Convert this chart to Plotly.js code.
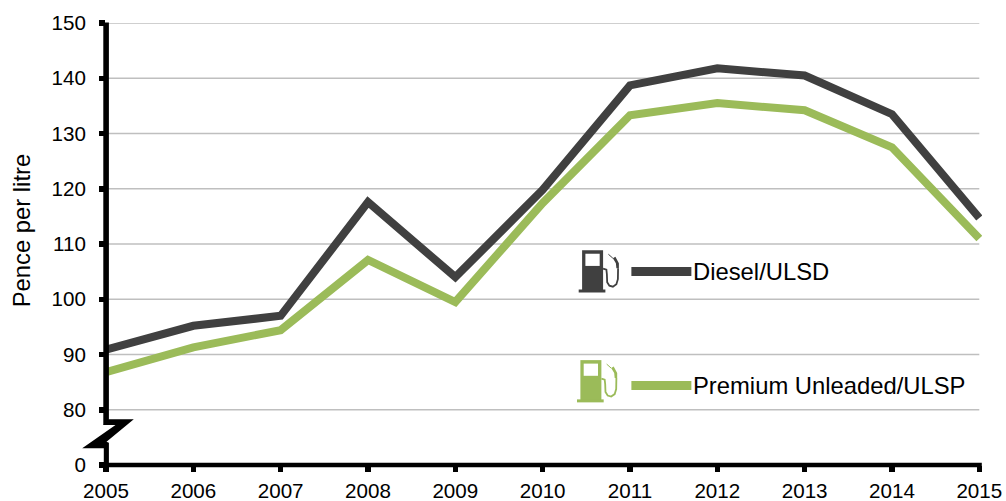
<!DOCTYPE html>
<html>
<head>
<meta charset="utf-8">
<script src="https://cdn.plot.ly/plotly-3.0.1.min.js"></script>
<style>html,body{margin:0;padding:0;background:#fff;overflow:hidden}</style>
</head>
<body>
<div id="chart" style="width:1006px;height:501px"></div>
<script>
// Data
var years = [2005,2006,2007,2008,2009,2010,2011,2012,2013,2014,2015];
var diesel = [90.9,95.2,97.0,117.6,104.0,119.8,138.7,141.8,140.5,133.5,114.7];
var premium = [86.8,91.3,94.4,107.1,99.5,117.4,133.3,135.5,134.2,127.5,111.0];
// The axis is broken: the "0" tick sits one step below 80.
var yTickVals = [70,80,90,100,110,120,130,140,150];
var yTickText = ['0','80','90','100','110','120','130','140','150'];
var gridVals = [80,90,100,110,120,130,140,150];
var seriesNames = ['Diesel/ULSD','Premium Unleaded/ULSP'];
var seriesColors = ['#404040','#9BBB59'];
var yTitle = 'Pence per litre';

var W=1006,H=501,L=105.5,R=981.7,T=22.5,B=465;
var font='"Liberation Sans", Arial, sans-serif';
function px(x){return (x-L)/(R-L);}
function py(y){return (B-y)/(B-T);}
function poly(pts,fill){
  var d=pts.map(function(p,i){return (i?'L':'M')+px(p[0])+' '+py(p[1]);}).join(' ')+' Z';
  return {type:'path',xref:'paper',yref:'paper',path:d,fillcolor:fill,line:{width:0},layer:'above'};
}
function seg(pts,color,w){
  var d=pts.map(function(p,i){return (i?'L':'M')+px(p[0])+' '+py(p[1]);}).join(' ');
  return {type:'path',xref:'paper',yref:'paper',path:d,line:{color:color,width:w},layer:'above'};
}
function rect(x0,y0,x1,y1,fill){
  return {type:'rect',xref:'paper',yref:'paper',x0:px(x0),x1:px(x1),y0:py(y0),y1:py(y1),fillcolor:fill,line:{width:0},layer:'above'};
}
function pump(dx,dy,c){
  return [
    rect(581.7+dx,250+dy,602.7+dx,290+dy,c),
    rect(585+dx,253.5+dy,599.3+dx,265.7+dy,'#ffffff'),
    rect(578.3+dx,289.3+dy,605+dx,292.3+dy,c),
    seg([[602.7+dx,268.5+dy],[606+dx,269.5+dy],[606.5+dx,274+dy],[606.8+dx,282+dy],[609+dx,285.5+dy],[612.5+dx,286.5+dy],[616+dx,284+dy],[617.5+dx,279+dy],[617.7+dx,268+dy]],c,1.8),
    poly([[612.5+dx,258+dy],[615+dx,256.5+dy],[618.5+dx,263+dy],[618.5+dx,268+dy],[616+dx,268+dy],[615.5+dx,263+dy]],c),
    seg([[608+dx,254+dy],[612.5+dx,258+dy]],c,1)
  ];
}

var shapes=[];
gridVals.forEach(function(v){
  shapes.push({type:'line',xref:'x',yref:'y',x0:2005,x1:2015,y0:v,y1:v,line:{color:'#BFBFBF',width:1.5},layer:'below'});
});
// axis lines and axis break
shapes.push(rect(103,462.7,981.5,467.3,'#000000'));
shapes.push(rect(102.8,22,108.4,425,'#000000'));
shapes.push(poly([[108.4,419.3],[133.3,419.3],[106,441.7],[108.4,442.7],[108.4,465],[103.3,465],[103.3,448.3],[81.7,448.3],[115,425],[102.8,425]],'#000000'));
// legend samples and pump icons
shapes.push(rect(631,266.7,691,275.7,seriesColors[0]));
shapes.push(rect(631,381,691,390,seriesColors[1]));
shapes=shapes.concat(pump(0,0,seriesColors[0]),pump(-1.7,110,seriesColors[1]));

var data=[
 {x:years,y:diesel,name:seriesNames[0],mode:'lines',line:{color:seriesColors[0],width:8,shape:'linear',simplify:false},hoverinfo:'x+y'},
 {x:years,y:premium,name:seriesNames[1],mode:'lines',line:{color:seriesColors[1],width:8,shape:'linear',simplify:false},hoverinfo:'x+y'}
];
var tickFont={family:font,size:20.6,color:'#000'};
var textFont={family:font,size:23.8,color:'#000'};
var layout={
 width:W,height:H,autosize:false,showlegend:false,
 paper_bgcolor:'#fff',plot_bgcolor:'#fff',
 margin:{l:L,r:W-R,t:T,b:H-B,pad:0},
 font:tickFont,
 xaxis:{range:[2005,2015+(R-979)/87.4],tickmode:'array',tickvals:years,ticktext:years.map(String),
   showgrid:false,zeroline:false,showline:false,ticks:'outside',ticklen:6,tickwidth:5.5,tickcolor:'#000',
   ticklabelstandoff:1,tickfont:tickFont},
 yaxis:{range:[70,150],tickmode:'array',tickvals:yTickVals,ticktext:yTickText,
   showgrid:false,zeroline:false,showline:false,ticks:'outside',ticklen:6,tickwidth:5.5,tickcolor:'#000',
   ticklabelstandoff:9,tickfont:tickFont},
 shapes:shapes,
 annotations:[
  {xref:'paper',yref:'paper',x:px(20.5),y:py(231),xanchor:'center',yanchor:'middle',textangle:-90,text:yTitle,showarrow:false,font:textFont,borderpad:0},
  {xref:'paper',yref:'paper',x:px(691.5),y:py(271),xanchor:'left',yanchor:'middle',text:seriesNames[0],showarrow:false,font:textFont,borderpad:0},
  {xref:'paper',yref:'paper',x:px(691.5),y:py(385),xanchor:'left',yanchor:'middle',text:seriesNames[1],showarrow:false,font:textFont,borderpad:0}
 ]
};
Plotly.newPlot('chart',data,layout,{displayModeBar:false,staticPlot:true});
</script>
</body>
</html>
